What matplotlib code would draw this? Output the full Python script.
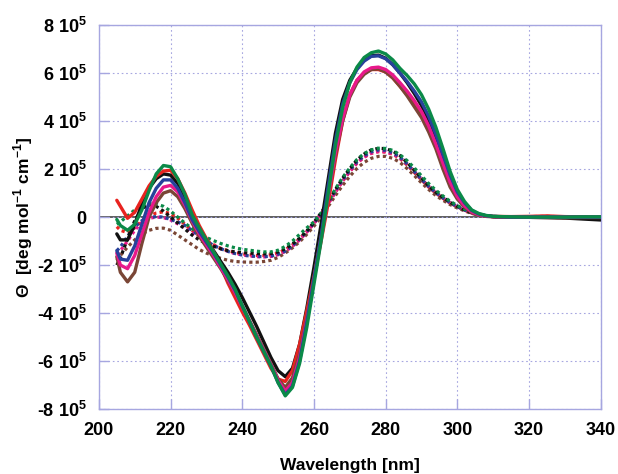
import matplotlib
matplotlib.use("Agg")
import matplotlib.pyplot as plt

plt.rcParams["font.family"] = "Liberation Sans"
plt.rcParams["font.weight"] = "bold"
plt.rcParams["mathtext.fontset"] = "custom"
plt.rcParams["mathtext.rm"] = "Liberation Sans:bold"
plt.rcParams["mathtext.bf"] = "Liberation Sans:bold"

# wavelength grid (nm)
wl = [205, 206, 208, 210, 212, 214, 216, 218, 220, 222, 224, 226, 228, 230,
      232, 234, 236, 238, 240, 242, 244, 246, 248, 250, 252, 254, 256, 258,
      260, 262, 264, 266, 268, 270, 272, 274, 276, 278, 280, 282, 284, 286,
      288, 290, 292, 294, 296, 298, 300, 302, 304, 306, 308, 310,
      315, 320, 325, 330, 335, 340]

# ellipticity, units of 1e5 deg mol-1 cm-1 -- solid curves
black_s = [-0.7, -0.95, -0.95, -0.3, 0.55, 1.2, 1.6, 1.8, 1.75, 1.4, 0.8, 0.1, -0.5, -0.95,
           -1.4, -1.85, -2.3, -2.8, -3.35, -3.95, -4.55, -5.2, -5.85, -6.4, -6.65, -6.3, -5.3, -3.8,
           -2.1, -0.3, 1.6, 3.5, 4.9, 5.7, 6.2, 6.55, 6.72, 6.75, 6.62, 6.35, 6.0, 5.6,
           5.15, 4.65, 4.05, 3.3, 2.5, 1.65, 1.0, 0.55, 0.25, 0.1, 0.05, 0.02,
           0.0, -0.01, -0.02, -0.04, -0.08, -0.12]
red_s = [0.7, 0.45, -0.05, 0.2, 0.75, 1.3, 1.7, 1.92, 1.95, 1.6, 1.0, 0.3, -0.35, -0.9,
         -1.45, -2.05, -2.75, -3.35, -3.95, -4.5, -5.1, -5.7, -6.3, -6.75, -6.85, -6.4, -5.3, -3.9,
         -2.5, -1.0, 0.6, 2.4, 4.0, 5.1, 5.7, 6.0, 6.15, 6.15, 6.05, 5.8, 5.45, 5.1,
         4.7, 4.25, 3.65, 2.95, 2.15, 1.4, 0.8, 0.45, 0.2, 0.1, 0.05, 0.03,
         0.02, 0.03, 0.05, 0.02, 0.01, 0.0]
blue_s = [-1.4, -1.75, -1.8, -1.2, -0.3, 0.6, 1.2, 1.55, 1.55, 1.2, 0.6, -0.1, -0.6, -1.05,
          -1.5, -2.0, -2.5, -3.05, -3.7, -4.35, -5.0, -5.6, -6.2, -6.9, -7.4, -7.05, -6.0, -4.4,
          -2.6, -0.8, 1.3, 3.2, 4.7, 5.6, 6.15, 6.5, 6.7, 6.72, 6.6, 6.35, 6.0, 5.65,
          5.25, 4.8, 4.2, 3.45, 2.6, 1.75, 1.05, 0.6, 0.28, 0.13, 0.06, 0.03,
          0.0, 0.0, 0.0, 0.0, 0.0, 0.0]
pink_s = [-1.5, -2.0, -2.15, -1.6, -0.7, 0.2, 0.85, 1.25, 1.32, 1.05, 0.5, -0.15, -0.7, -1.15,
          -1.6, -2.1, -2.6, -3.15, -3.75, -4.35, -4.95, -5.55, -6.15, -6.8, -7.25, -6.9, -5.85, -4.3,
          -2.6, -0.9, 0.9, 2.7, 4.1, 5.1, 5.7, 6.05, 6.22, 6.25, 6.15, 5.92, 5.6, 5.25,
          4.85, 4.4, 3.8, 3.05, 2.25, 1.45, 0.85, 0.47, 0.22, 0.1, 0.05, 0.02,
          0.0, 0.0, 0.0, 0.0, 0.0, 0.0]
brown_s = [-1.65, -2.3, -2.7, -2.3, -1.1, 0.0, 0.6, 1.0, 1.1, 0.85, 0.35, -0.25, -0.8, -1.25,
           -1.7, -2.15, -2.65, -3.15, -3.7, -4.3, -4.9, -5.5, -6.1, -6.75, -7.1, -6.7, -5.7, -4.2,
           -2.5, -0.8, 0.9, 2.6, 4.0, 5.0, 5.6, 5.95, 6.15, 6.18, 6.05, 5.8, 5.45, 5.05,
           4.6, 4.15, 3.55, 2.85, 2.0, 1.25, 0.75, 0.42, 0.2, 0.08, 0.03, 0.01,
           0.0, -0.01, -0.02, -0.03, -0.02, -0.02]
green_s = [-0.1, -0.35, -0.55, -0.3, 0.3, 1.1, 1.8, 2.15, 2.1, 1.6, 0.95, 0.1, -0.45, -0.95,
           -1.45, -1.95, -2.45, -3.0, -3.7, -4.35, -5.0, -5.6, -6.2, -6.9, -7.45, -7.1, -6.1, -4.6,
           -2.8, -1.0, 1.0, 3.0, 4.55, 5.6, 6.25, 6.65, 6.85, 6.92, 6.8, 6.55, 6.2, 5.9,
           5.55, 5.1, 4.5, 3.75, 2.85, 1.9, 1.15, 0.65, 0.3, 0.15, 0.07, 0.03,
           0.01, 0.0, 0.0, 0.0, 0.01, 0.01]

# dotted curves
black_d = [-2.0, -1.7, -0.9, -0.15, 0.35, 0.5, 0.45, 0.25, 0.0, -0.25, -0.5, -0.75, -0.95, -1.1,
           -1.22, -1.32, -1.4, -1.45, -1.48, -1.5, -1.52, -1.53, -1.52, -1.45, -1.32, -1.12, -0.88, -0.58,
           -0.22, 0.18, 0.65, 1.15, 1.62, 2.02, 2.38, 2.63, 2.8, 2.87, 2.85, 2.75, 2.56, 2.28,
           1.95, 1.62, 1.3, 1.04, 0.82, 0.62, 0.45, 0.3, 0.18, 0.1, 0.05, 0.02,
           0.0, -0.01, -0.01, -0.01, -0.02, -0.03]
red_d = [-0.4, -0.55, -0.65, -0.45, -0.15, 0.05, 0.17, 0.22, 0.15, -0.05, -0.3, -0.55, -0.78, -0.98,
         -1.15, -1.3, -1.4, -1.48, -1.53, -1.57, -1.6, -1.6, -1.57, -1.5, -1.36, -1.16, -0.9, -0.6,
         -0.25, 0.15, 0.58, 1.05, 1.5, 1.9, 2.25, 2.5, 2.66, 2.73, 2.71, 2.62, 2.44, 2.17,
         1.86, 1.55, 1.25, 1.0, 0.78, 0.58, 0.43, 0.29, 0.17, 0.09, 0.05, 0.02,
         0.01, 0.02, 0.03, 0.01, 0.0, 0.0]
blue_d = [-1.4, -1.25, -0.8, -0.4, -0.15, -0.02, 0.02, 0.0, -0.1, -0.2, -0.35, -0.55, -0.78, -1.0,
          -1.18, -1.32, -1.43, -1.52, -1.58, -1.62, -1.64, -1.65, -1.63, -1.55, -1.42, -1.2, -0.92, -0.6,
          -0.25, 0.15, 0.6, 1.1, 1.55, 1.95, 2.3, 2.55, 2.72, 2.8, 2.78, 2.68, 2.5, 2.22,
          1.9, 1.58, 1.28, 1.02, 0.8, 0.6, 0.44, 0.3, 0.18, 0.1, 0.05, 0.02,
          0.0, -0.01, 0.0, 0.0, 0.0, 0.0]
pink_d = [-1.55, -1.4, -1.0, -0.55, -0.22, -0.05, 0.0, -0.02, -0.12, -0.28, -0.45, -0.65, -0.85, -1.03,
          -1.18, -1.32, -1.43, -1.52, -1.58, -1.62, -1.65, -1.66, -1.64, -1.57, -1.43, -1.22, -0.95, -0.63,
          -0.27, 0.12, 0.56, 1.04, 1.5, 1.9, 2.25, 2.5, 2.66, 2.73, 2.72, 2.63, 2.46, 2.2,
          1.9, 1.58, 1.28, 1.02, 0.8, 0.6, 0.44, 0.3, 0.18, 0.1, 0.05, 0.02,
          0.0, 0.0, 0.0, 0.0, 0.0, 0.0]
brown_d = [-1.8, -1.6, -1.25, -0.95, -0.7, -0.55, -0.47, -0.46, -0.55, -0.75, -0.95, -1.15, -1.35, -1.5,
           -1.62, -1.72, -1.8, -1.85, -1.87, -1.88, -1.88, -1.85, -1.8, -1.68, -1.5, -1.28, -1.03, -0.72,
           -0.38, 0.0, 0.45, 0.9, 1.32, 1.7, 2.03, 2.28, 2.45, 2.53, 2.53, 2.45, 2.28, 2.02,
           1.73, 1.43, 1.15, 0.9, 0.7, 0.52, 0.38, 0.26, 0.15, 0.08, 0.04, 0.02,
           0.0, 0.0, -0.01, -0.02, -0.02, -0.02]
green_d = [-0.3, -0.2, 0.05, 0.3, 0.5, 0.58, 0.55, 0.45, 0.25, 0.0, -0.25, -0.48, -0.68, -0.85,
           -0.98, -1.1, -1.2, -1.28, -1.34, -1.38, -1.42, -1.45, -1.45, -1.38, -1.22, -1.0, -0.72, -0.45,
           -0.2, 0.15, 0.65, 1.18, 1.65, 2.05, 2.4, 2.65, 2.8, 2.87, 2.86, 2.78, 2.6, 2.35,
           2.05, 1.72, 1.4, 1.12, 0.88, 0.66, 0.48, 0.33, 0.2, 0.11, 0.06, 0.03,
           0.01, 0.0, 0.0, 0.0, 0.0, 0.0]

ytick_vals = [-8, -6, -4, -2, 0, 2, 4, 6, 8]

colors = {"black": "#111111", "red": "#e8231f", "blue": "#27419b",
          "pink": "#e8188a", "brown": "#7a4636", "green": "#0b8a48"}
solid = [("black", black_s), ("red", red_s), ("brown", brown_s),
         ("pink", pink_s), ("blue", blue_s), ("green", green_s)]
dotted = [("brown", brown_d), ("red", red_d), ("pink", pink_d),
          ("blue", blue_d), ("black", black_d), ("green", green_d)]

frame = "#a6a6e0"

fig = plt.figure(figsize=(6.18, 4.74), dpi=100)
ax = fig.add_axes([0.160, 0.137, 0.812, 0.810])

ax.axhline(0, color="#333333", lw=1.1, zorder=1)

for name, vals in dotted:
    ax.plot(wl, [v * 1e5 for v in vals], color=colors[name], lw=2.3,
            dashes=(1.0, 1.0), dash_capstyle="butt", zorder=2)
for name, vals in solid:
    ax.plot(wl, [v * 1e5 for v in vals], color=colors[name], lw=2.4,
            solid_capstyle="round", solid_joinstyle="round", zorder=3)

ax.set_xlim(200, 340)
ax.set_ylim(-8e5, 8e5)
ax.set_xticks(range(200, 341, 20))
ax.set_yticks([v * 1e5 for v in ytick_vals])
ax.set_yticklabels(["%d 10$^{5}$" % v if v != 0 else "0" for v in ytick_vals])

ax.grid(True, color=frame, linestyle=(0, (1.5, 2.5)), lw=0.8)
for s in ax.spines.values():
    s.set_color(frame)
    s.set_linewidth(1.0)
ax.tick_params(direction="in", color=frame, length=7, width=1.0,
               labelsize=13, pad=9)
for lab in ax.get_xticklabels() + ax.get_yticklabels():
    lab.set_fontweight("bold")

ax.set_xlabel("Wavelength [nm]", fontsize=12.5, fontweight="bold", labelpad=14)
ax.set_ylabel(r"Θ  [deg mol$^{-1}$ cm$^{-1}$]", fontsize=12.5, fontweight="bold", labelpad=1)

fig.savefig("out.png", dpi=100)
